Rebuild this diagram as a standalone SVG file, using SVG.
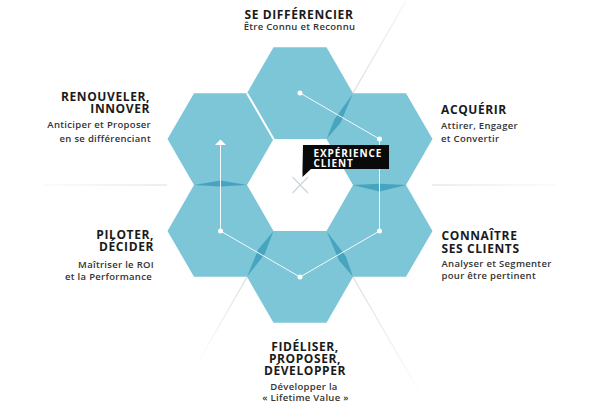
<svg xmlns="http://www.w3.org/2000/svg" xmlns:xlink="http://www.w3.org/1999/xlink" width="600" height="413" viewBox="0 0 600 413">
<style>
.hex{fill:#7cc6d8}
.shade{fill:#3e9dbb;opacity:.85}
.title{font-family:"Open Sans","Liberation Sans",sans-serif;font-weight:700;font-size:12px;letter-spacing:.6px;fill:#1a1a1a}
.sub{font-family:"Open Sans","Liberation Sans",sans-serif;font-weight:600;font-size:9.5px;letter-spacing:.3px;fill:#333}
.conn{stroke:#ffffff;stroke-width:1;fill:none;opacity:.9}
.dot{fill:#ffffff}
.call{font-family:"Open Sans","Liberation Sans",sans-serif;font-weight:700;font-size:10px;letter-spacing:.9px;fill:#ffffff}
</style>
<defs>
<polygon id="hexshape" points="-53,0 -26.5,-45.9 26.5,-45.9 53,0 26.5,45.9 -26.5,45.9"/>
<linearGradient id="gTR" gradientUnits="userSpaceOnUse" x1="353" y1="93" x2="406" y2="1"><stop offset="0" stop-color="#dcdcdc"/><stop offset="1" stop-color="#dcdcdc" stop-opacity="0.3"/></linearGradient>
<linearGradient id="gBL" gradientUnits="userSpaceOnUse" x1="247" y1="277" x2="196" y2="366"><stop offset="0" stop-color="#dcdcdc"/><stop offset="1" stop-color="#dcdcdc" stop-opacity="0"/></linearGradient>
<linearGradient id="gBR" gradientUnits="userSpaceOnUse" x1="353" y1="277" x2="424" y2="400"><stop offset="0" stop-color="#dcdcdc"/><stop offset="1" stop-color="#dcdcdc" stop-opacity="0"/></linearGradient>
<linearGradient id="gL" gradientUnits="userSpaceOnUse" x1="167" y1="0" x2="43" y2="0"><stop offset="0" stop-color="#dcdcdc"/><stop offset="1" stop-color="#dcdcdc" stop-opacity="0.2"/></linearGradient>
<linearGradient id="gR" gradientUnits="userSpaceOnUse" x1="432" y1="0" x2="556" y2="0"><stop offset="0" stop-color="#dcdcdc"/><stop offset="1" stop-color="#dcdcdc" stop-opacity="0.2"/></linearGradient>
</defs>
<rect width="600" height="413" fill="#ffffff"/>
<g id="background-lines" stroke-width="1.2" fill="none">
<line x1="43" y1="185" x2="167" y2="185" stroke="url(#gL)"/>
<line x1="432" y1="185" x2="556" y2="185" stroke="url(#gR)"/>
<line x1="353" y1="93" x2="406" y2="1" stroke="url(#gTR)"/>
<line x1="247" y1="277" x2="196" y2="366" stroke="url(#gBL)"/>
<line x1="353" y1="277" x2="424" y2="400" stroke="url(#gBR)"/>
</g>
<g id="node-se-differencier">
<use xlink:href="#hexshape" class="hex" x="300" y="93.2"/>
<text class="title" x="299" y="18.5" text-anchor="middle">SE DIFFÉRENCIER</text>
<text class="sub" x="299.5" y="29.5" text-anchor="middle">Être Connu et Reconnu</text>
</g>
<g id="node-acquerir">
<use xlink:href="#hexshape" class="hex" x="379.5" y="139.1"/>
<text class="title" x="441" y="114">ACQUÉRIR</text>
<text class="sub" x="441" y="129">Attirer, Engager<tspan x="441" dy="12.5">et Convertir</tspan></text>
</g>
<g id="node-connaitre">
<use xlink:href="#hexshape" class="hex" x="379.5" y="230.9"/>
<text class="title" x="441.5" y="240">CONNAÎTRE<tspan x="441.5" dy="13">SES CLIENTS</tspan></text>
<text class="sub" x="441.5" y="267">Analyser et Segmenter<tspan x="441.5" dy="12">pour être pertinent</tspan></text>
</g>
<g id="node-fideliser">
<use xlink:href="#hexshape" class="hex" x="300" y="276.8"/>
<text class="title" x="305" y="351" text-anchor="middle">FIDÉLISER,<tspan x="305" dy="11.5">PROPOSER,</tspan><tspan x="305" dy="12.5">DÉVELOPPER</tspan></text>
<text class="sub" x="304" y="390" text-anchor="middle">Développer la<tspan x="305.5" dy="11">« Lifetime Value »</tspan></text>
</g>
<g id="node-piloter">
<use xlink:href="#hexshape" class="hex" x="220.5" y="230.9"/>
<text class="title" x="154" y="239" text-anchor="end">PILOTER,<tspan x="154" dy="12">DÉCIDER</tspan></text>
<text class="sub" x="154" y="267.5" text-anchor="end">Maîtriser le ROI<tspan x="152" dy="12.5">et la Performance</tspan></text>
</g>
<g id="node-renouveler">
<use xlink:href="#hexshape" class="hex" x="220.5" y="139.1"/>
<text class="title" x="150" y="101" text-anchor="end">RENOUVELER,<tspan x="150" dy="12">INNOVER</tspan></text>
<text class="sub" x="151" y="127.5" text-anchor="end">Anticiper et Proposer<tspan x="151" dy="14">en se différenciant</tspan></text>
</g>
<g id="joints">
<polygon class="shade" points="353,93.2 340.6,122.7 326.5,139.1 334.5,119.2"/>
<polygon class="shade" points="194,185 220.5,180.5 247,185 220.5,186.5"/>
<polygon class="shade" points="353,185 379.5,183.8 406,185 379.5,191.5"/>
<polygon class="shade" points="273.5,231 265,253.6 247,276.8 258.2,249.6"/>
<polygon class="shade" points="326.5,231 345.9,256.4 353,276.8 339,260.4"/>
<line x1="247" y1="93.2" x2="273.5" y2="139.1" stroke="#ffffff" stroke-width="2"/>
</g>
<g id="connectors">
<path class="conn" d="M300,93 L379.5,139 L379.5,231 L300,277 L220.5,231 L220.5,145"/>
<polygon class="dot" points="220.5,139.5 215,145 226,145"/>
<circle class="dot" cx="300" cy="93" r="2.5"/>
<circle class="dot" cx="379.5" cy="139" r="2.5"/>
<circle class="dot" cx="379.5" cy="231" r="2.5"/>
<circle class="dot" cx="300" cy="277" r="2.5"/>
<circle class="dot" cx="220.5" cy="231" r="2.5"/>
</g>
<g id="node-experience-client">
<path d="M292.5,177 L308,193 M308,177 L292.5,193" stroke="#c9d7dc" stroke-width="1.2" fill="none"/>
<path d="M303,145 H389 V169 H311 L302.5,177 V169 Z" fill="#0a0a0a"/>
<text class="call" x="313.5" y="156.5">EXPÉRIENCE<tspan x="313.5" dy="10">CLIENT</tspan></text>
</g>
</svg>
